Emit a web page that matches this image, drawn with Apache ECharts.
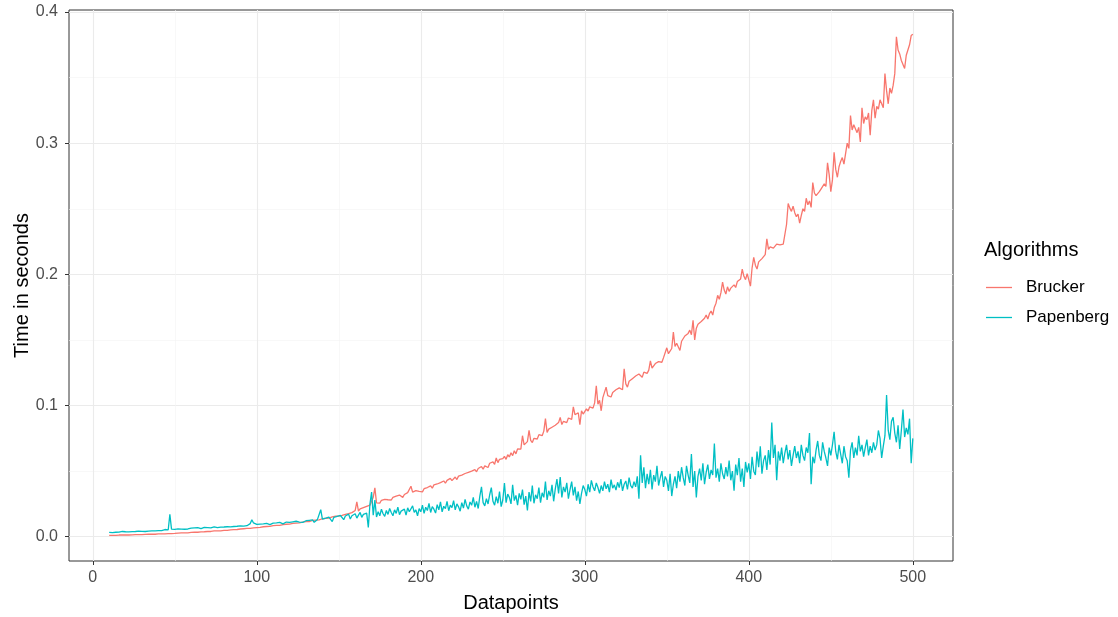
<!DOCTYPE html>
<html>
<head>
<meta charset="utf-8">
<script src="https://cdn.jsdelivr.net/npm/echarts@6/dist/echarts.min.js"></script>
<style>
html,body{margin:0;padding:0;background:#fff;}
#chart{width:1118px;height:617px;}
</style>
</head>
<body>
<div id="chart"></div>
<script>
// x values: datapoints 10..500
const xStart = 10;
const seriesNames = ['Brucker', 'Papenberg'];
const xTicks = [0, 100, 200, 300, 400, 500];
const yTicks = [0, 0.1, 0.2, 0.3, 0.4];

const brucker = [
0.0010,0.0011,0.0010,0.0012,0.0011,0.0012,0.0013,0.0012,0.0013,0.0012,
0.0013,0.0014,0.0013,0.0015,0.0014,0.0014,0.0016,0.0015,0.0016,0.0017,
0.0016,0.0017,0.0018,0.0017,0.0019,0.0018,0.0019,0.0020,0.0019,0.0021,
0.0021,0.0022,0.0021,0.0023,0.0022,0.0024,0.0023,0.0025,0.0024,0.0026,
0.0025,0.0027,0.0028,0.0027,0.0029,0.0028,0.0030,0.0031,0.0030,0.0032,
0.0033,0.0032,0.0034,0.0035,0.0034,0.0036,0.0037,0.0036,0.0038,0.0039,
0.0040,0.0041,0.0040,0.0042,0.0044,0.0043,0.0045,0.0046,0.0045,0.0047,
0.0048,0.0050,0.0049,0.0051,0.0053,0.0052,0.0054,0.0056,0.0055,0.0057,
0.0059,0.0058,0.0061,0.0060,0.0063,0.0065,0.0064,0.0066,0.0068,0.0067,
0.0070,0.0072,0.0071,0.0074,0.0076,0.0075,0.0078,0.0080,0.0079,0.0082,
0.0084,0.0083,0.0086,0.0088,0.0087,0.0090,0.0093,0.0091,0.0095,0.0097,
0.0096,0.0099,0.0102,0.0100,0.0104,0.0107,0.0105,0.0109,0.0112,0.0110,
0.0115,0.0118,0.0116,0.0121,0.0124,0.0122,0.0127,0.0131,0.0128,0.0134,
0.0137,0.0135,0.0140,0.0145,0.0142,0.0148,0.0152,0.0149,0.0156,0.0160,
0.0157,0.0168,0.0162,0.0175,0.0170,0.0182,0.0176,0.0190,0.0184,0.0178,
0.0200,0.0265,0.0196,0.0212,0.0205,0.0222,0.0214,0.0232,0.0220,0.0240,
0.0236,0.0300,0.0372,0.0258,0.0270,0.0256,0.0278,0.0265,0.0285,0.0272,
0.0282,0.0295,0.0280,0.0300,0.0290,0.0310,0.0296,0.0318,0.0305,0.0300,
0.0322,0.0312,0.0336,0.0325,0.0385,0.0340,0.0330,0.0352,0.0338,0.0345,
0.0355,0.0342,0.0366,0.0358,0.0375,0.0362,0.0388,0.0370,0.0395,0.0380,
0.0402,0.0390,0.0412,0.0398,0.0425,0.0408,0.0430,0.0418,0.0445,0.0428,
0.0440,0.0455,0.0436,0.0462,0.0450,0.0470,0.0455,0.0482,0.0468,0.0490,
0.0478,0.0500,0.0488,0.0512,0.0495,0.0520,0.0506,0.0535,0.0515,0.0540,
0.0548,0.0528,0.0560,0.0545,0.0570,0.0552,0.0600,0.0565,0.0590,0.0578,
0.0595,0.0612,0.0590,0.0625,0.0608,0.0640,0.0618,0.0655,0.0632,0.0670,
0.0680,0.0668,0.0770,0.0700,0.0690,0.0725,0.0810,0.0735,0.0718,0.0750,
0.0762,0.0745,0.0778,0.0790,0.0770,0.0805,0.0900,0.0795,0.0820,0.0812,
0.0835,0.0825,0.0850,0.0842,0.0870,0.0910,0.0855,0.0880,0.0895,0.0870,
0.0905,0.0920,0.0895,0.0990,0.0930,0.0915,0.0945,0.0855,0.0960,0.0935,
0.0940,0.0975,0.0958,0.0990,0.1005,0.0980,0.1020,0.1150,0.1010,0.1040,
0.0960,0.1060,0.1045,0.1140,0.1075,0.1090,0.1065,0.1100,0.1085,0.1120,
0.1110,0.1135,0.1150,0.1120,0.1280,0.1165,0.1140,0.1185,0.1170,0.1205,
0.1195,0.1225,0.1210,0.1240,0.1230,0.1215,0.1255,0.1250,0.1245,0.1270,
0.1340,0.1285,0.1300,0.1320,0.1305,0.1335,0.1350,0.1330,0.1365,0.1380,
0.1440,0.1395,0.1410,0.1435,0.1560,0.1450,0.1475,0.1460,0.1420,0.1490,
0.1505,0.1530,0.1515,0.1550,0.1575,0.1540,0.1650,0.1500,0.1590,0.1620,
0.1610,0.1640,0.1625,0.1665,0.1690,0.1660,0.1700,0.1720,0.1690,0.1750,
0.1780,0.1840,0.1810,0.1860,0.1940,0.1880,0.1850,0.1905,0.1870,0.1895,
0.1880,0.1920,0.1900,0.1945,0.1930,0.1965,0.2040,0.1985,0.1960,0.2005,
0.1995,0.1910,0.2050,0.2130,0.2070,0.2040,0.2095,0.2080,0.2120,0.2105,
0.2150,0.2270,0.2190,0.2210,0.2225,0.2200,0.2215,0.2230,0.2220,0.2225,
0.2235,0.2230,0.2240,0.2380,0.2540,0.2505,0.2480,0.2520,0.2470,0.2440,
0.2460,0.2390,0.2450,0.2500,0.2480,0.2580,0.2530,0.2560,0.2510,0.2700,
0.2620,0.2600,0.2590,0.2630,0.2650,0.2640,0.2690,0.2670,0.2850,0.2760,
0.2630,0.2720,0.2930,0.2800,0.2740,0.2820,0.2860,0.2890,0.2840,0.2920,
0.3000,0.2960,0.3210,0.3100,0.3140,0.3150,0.3080,0.3120,0.3010,0.3270,
0.3150,0.3200,0.3180,0.3230,0.3060,0.3250,0.3330,0.3190,0.3280,0.3260,
0.3330,0.3300,0.3270,0.3530,0.3400,0.3300,0.3420,0.3380,0.3440,0.3530,
0.3810,0.3710,0.3680,0.3630,0.3600,0.3570,0.3670,0.3710,0.3750,0.3820,
0.3830
];

const papenberg = [
0.0033,0.0035,0.0032,0.0036,0.0034,0.0038,0.0035,0.0037,0.0040,0.0036,
0.0038,0.0041,0.0037,0.0040,0.0039,0.0043,0.0040,0.0038,0.0042,0.0045,
0.0041,0.0044,0.0040,0.0046,0.0043,0.0047,0.0044,0.0049,0.0045,0.0048,
0.0046,0.0052,0.0047,0.0050,0.0055,0.0048,0.0053,0.0170,0.0058,0.0051,
0.0056,0.0054,0.0060,0.0055,0.0058,0.0062,0.0057,0.0064,0.0059,0.0061,
0.0066,0.0060,0.0068,0.0063,0.0070,0.0065,0.0062,0.0069,0.0072,0.0066,
0.0070,0.0074,0.0068,0.0072,0.0076,0.0071,0.0069,0.0075,0.0073,0.0078,
0.0074,0.0079,0.0076,0.0080,0.0075,0.0082,0.0078,0.0084,0.0080,0.0077,
0.0083,0.0086,0.0081,0.0088,0.0084,0.0092,0.0100,0.0130,0.0105,0.0090,
0.0094,0.0088,0.0096,0.0091,0.0098,0.0093,0.0102,0.0097,0.0092,0.0100,
0.0104,0.0097,0.0106,0.0100,0.0109,0.0103,0.0098,0.0108,0.0112,0.0105,
0.0110,0.0103,0.0114,0.0108,0.0118,0.0106,0.0112,0.0120,0.0110,0.0116,
0.0122,0.0113,0.0125,0.0117,0.0128,0.0110,0.0124,0.0132,0.0119,0.0206,
0.0135,0.0120,0.0142,0.0128,0.0150,0.0132,0.0115,0.0148,0.0138,0.0155,
0.0140,0.0162,0.0170,0.0130,0.0158,0.0145,0.0172,0.0135,0.0160,0.0150,
0.0175,0.0142,0.0165,0.0185,0.0148,0.0170,0.0158,0.0180,0.0070,0.0250,
0.0340,0.0165,0.0280,0.0150,0.0190,0.0160,0.0210,0.0175,0.0155,0.0200,
0.0170,0.0215,0.0185,0.0160,0.0205,0.0178,0.0225,0.0168,0.0195,0.0182,
0.0210,0.0165,0.0220,0.0190,0.0175,0.0235,0.0185,0.0205,0.0160,0.0215,
0.0190,0.0240,0.0178,0.0225,0.0200,0.0255,0.0185,0.0230,0.0210,0.0180,
0.0245,0.0205,0.0265,0.0190,0.0232,0.0215,0.0270,0.0198,0.0240,0.0222,
0.0275,0.0205,0.0250,0.0228,0.0195,0.0260,0.0218,0.0285,0.0235,0.0210,
0.0265,0.0240,0.0300,0.0225,0.0270,0.0215,0.0310,0.0380,0.0260,0.0235,
0.0290,0.0250,0.0320,0.0375,0.0270,0.0240,0.0305,0.0255,0.0345,0.0230,
0.0280,0.0410,0.0260,0.0325,0.0300,0.0250,0.0395,0.0275,0.0315,0.0240,
0.0330,0.0285,0.0360,0.0245,0.0310,0.0200,0.0340,0.0270,0.0390,0.0255,
0.0320,0.0290,0.0375,0.0260,0.0335,0.0300,0.0420,0.0280,0.0350,0.0310,
0.0395,0.0270,0.0365,0.0440,0.0330,0.0455,0.0300,0.0380,0.0340,0.0410,
0.0290,0.0360,0.0420,0.0315,0.0380,0.0275,0.0345,0.0250,0.0330,0.0390,
0.0360,0.0310,0.0400,0.0340,0.0430,0.0380,0.0350,0.0410,0.0375,0.0330,
0.0390,0.0350,0.0420,0.0365,0.0400,0.0340,0.0435,0.0370,0.0395,0.0355,
0.0415,0.0375,0.0440,0.0350,0.0400,0.0425,0.0360,0.0450,0.0390,0.0370,
0.0420,0.0380,0.0460,0.0290,0.0620,0.0410,0.0530,0.0370,0.0480,0.0400,
0.0510,0.0360,0.0470,0.0420,0.0540,0.0390,0.0450,0.0500,0.0380,0.0460,
0.0430,0.0350,0.0480,0.0310,0.0400,0.0460,0.0370,0.0500,0.0420,0.0530,
0.0450,0.0390,0.0540,0.0470,0.0410,0.0630,0.0380,0.0500,0.0300,0.0460,
0.0520,0.0430,0.0560,0.0400,0.0490,0.0550,0.0440,0.0510,0.0470,0.0710,
0.0450,0.0520,0.0420,0.0560,0.0480,0.0440,0.0530,0.0460,0.0580,0.0430,
0.0500,0.0350,0.0550,0.0470,0.0600,0.0420,0.0520,0.0380,0.0570,0.0490,
0.0560,0.0440,0.0610,0.0500,0.0470,0.0650,0.0530,0.0690,0.0480,0.0580,
0.0620,0.0510,0.0660,0.0550,0.0870,0.0600,0.0700,0.0430,0.0650,0.0580,
0.0680,0.0560,0.0640,0.0700,0.0590,0.0660,0.0540,0.0620,0.0690,0.0600,
0.0650,0.0560,0.0700,0.0620,0.0580,0.0680,0.0640,0.0790,0.0400,0.0610,
0.0560,0.0660,0.0730,0.0620,0.0580,0.0720,0.0650,0.0600,0.0540,0.0680,
0.0620,0.0700,0.0800,0.0650,0.0590,0.0700,0.0630,0.0560,0.0690,0.0610,
0.0580,0.0450,0.0660,0.0720,0.0600,0.0680,0.0620,0.0770,0.0650,0.0700,
0.0610,0.0680,0.0740,0.0620,0.0690,0.0640,0.0720,0.0660,0.0700,0.0810,
0.0750,0.0600,0.0690,0.0770,0.1080,0.0810,0.0740,0.0880,0.0910,0.0790,
0.0720,0.0850,0.0670,0.0810,0.0970,0.0760,0.0830,0.0780,0.0900,0.0560,
0.0750
];

const colors = ['#F8766D', '#00BFC4'];
const FONT = 'Liberation Sans, Arial, sans-serif';

function pairs(arr) { return arr.map((v, i) => [xStart + i, v]); }

const chart = echarts.init(document.getElementById('chart'), null, {renderer: 'canvas'});
chart.setOption({
  animation: false,
  backgroundColor: '#ffffff',
  textStyle: {fontFamily: FONT},
  title: {
    text: 'Algorithms', left: 984, top: 240, padding: 0,
    textStyle: {fontFamily: FONT, fontSize: 20, fontWeight: 'normal', color: '#000000'}
  },
  legend: {
    orient: 'vertical', left: 986, top: 279, padding: 0,
    icon: 'rect', itemWidth: 26, itemHeight: 1.3, itemGap: 13,
    data: seriesNames,
    textStyle: {fontFamily: FONT, fontSize: 17, color: '#000000', padding: [0, 0, 0, 9], height: 17, lineHeight: 17}
  },
  grid: {
    left: 69, right: 165, top: 10, bottom: 56,
    containLabel: false, outerBoundsMode: 'none',
    show: true, borderColor: '#333333', borderWidth: 1, backgroundColor: 'transparent'
  },
  xAxis: {
    type: 'value', min: -14.5, max: 524.5, minInterval: 100, maxInterval: 100,
    name: 'Datapoints', nameLocation: 'middle', nameGap: 32, nameMoveOverlap: false,
    nameTextStyle: {fontFamily: FONT, fontSize: 20, color: '#000000'},
    axisLine: {show: false, onZero: false},
    axisTick: {show: true, length: 4, customValues: xTicks, lineStyle: {color: '#333333'}},
    axisLabel: {customValues: xTicks, margin: 9, fontFamily: FONT, fontSize: 16, color: '#4D4D4D'},
    splitLine: {show: true, lineStyle: {color: '#EBEBEB', width: 1.1}},
    minorTick: {show: false, splitNumber: 2},
    minorSplitLine: {show: true, lineStyle: {color: '#F4F4F4', width: 0.6}}
  },
  yAxis: {
    type: 'value', min: -0.0185, max: 0.4015, minInterval: 0.1, maxInterval: 0.1,
    name: 'Time in seconds', nameLocation: 'middle', nameGap: 37, nameRotate: 90, nameMoveOverlap: false,
    nameTextStyle: {fontFamily: FONT, fontSize: 20, color: '#000000'},
    axisLine: {show: false, onZero: false},
    axisTick: {show: true, length: 4, customValues: yTicks, lineStyle: {color: '#333333'}},
    axisLabel: {customValues: yTicks, margin: 11, fontFamily: FONT, fontSize: 16, color: '#4D4D4D',
      formatter: v => v.toFixed(1)},
    splitLine: {show: true, lineStyle: {color: '#EBEBEB', width: 1.1}},
    minorTick: {show: false, splitNumber: 2},
    minorSplitLine: {show: true, lineStyle: {color: '#F4F4F4', width: 0.6}}
  },
  series: [
    {name: seriesNames[0], type: 'line', data: pairs(brucker), showSymbol: false, symbol: 'none',
     color: colors[0], lineStyle: {width: 1.3, color: colors[0]}, sampling: null, z: 2},
    {name: seriesNames[1], type: 'line', data: pairs(papenberg), showSymbol: false, symbol: 'none',
     color: colors[1], lineStyle: {width: 1.3, color: colors[1]}, sampling: null, z: 3}
  ]
});
</script>
</body>
</html>
